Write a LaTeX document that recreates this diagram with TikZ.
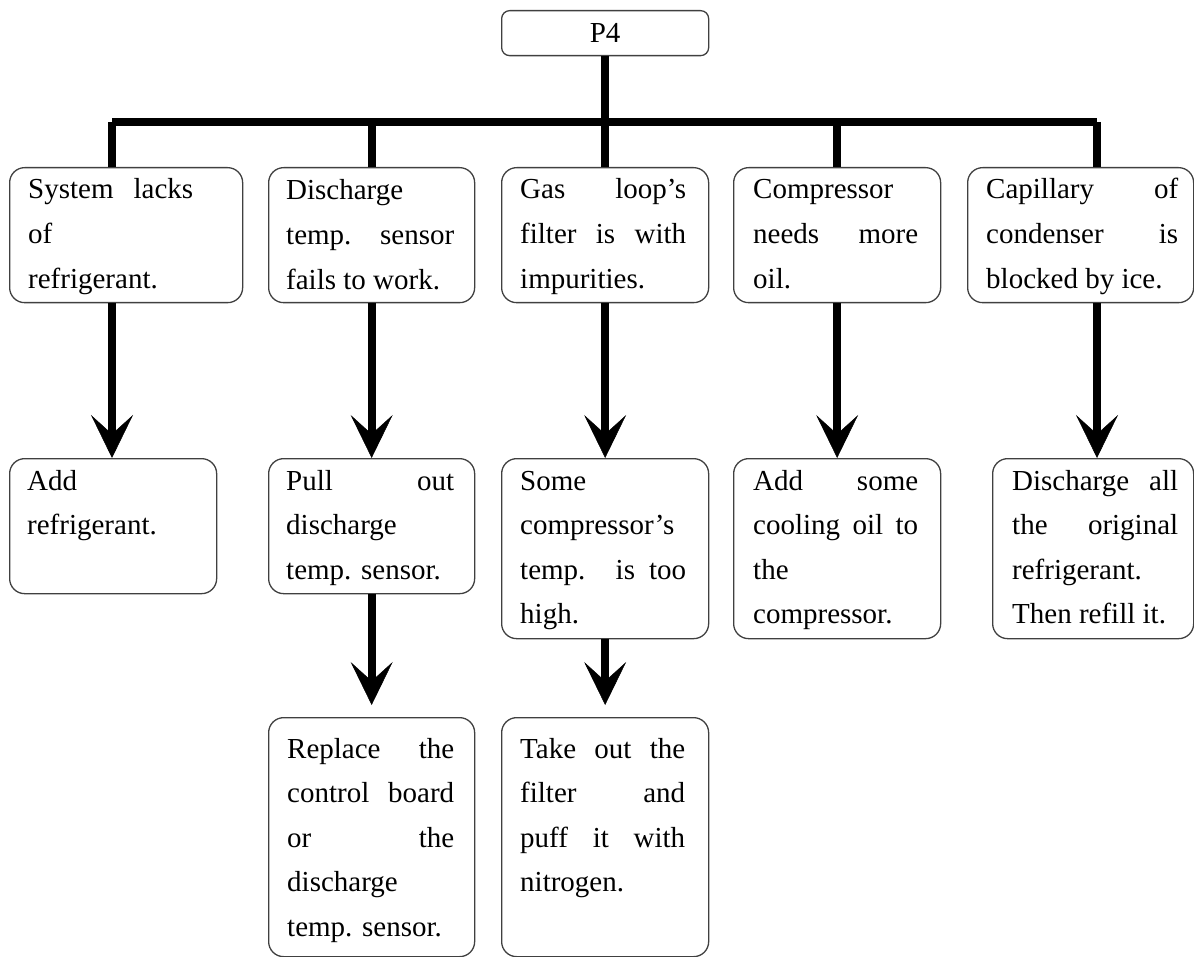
\documentclass[tikz,border=0pt]{standalone}
\usepackage{fontspec}
\setmainfont{Liberation Serif}
\usetikzlibrary{arrows.meta}
\newcommand\jl[1]{\makebox[\linewidth][s]{#1}}
\begin{document}
\begin{tikzpicture}[x=1pt,y=-1pt,
  box/.style={draw=black!75, line width=1.3pt, rounded corners=15pt, anchor=north west, inner sep=0pt, minimum width=207pt},
  txt/.style={anchor=base west, inner sep=0pt, font=\fontsize{29pt}{44.6pt}\selectfont},
  bus/.style={line width=8pt},
  arr/.style={line width=8pt, -{Stealth[length=43pt,width=42pt,inset=19pt,line width=0.5pt]}}]
\clip (0,0) rectangle (1194,957);
% top box
\node[box, rounded corners=8pt, minimum height=45pt, font=\fontsize{29pt}{35pt}\selectfont] (p4) at (501,10) {P4};
% row 1
\node[box, minimum width=233pt, minimum height=135pt] (b1) at (9,167) {};
\node[box, minimum width=206pt, minimum height=135pt] (b2) at (268,167) {};
\node[box, minimum height=135pt] (b3) at (501,167) {};
\node[box, minimum height=135pt] (b4) at (733,167) {};
\node[box, minimum width=226pt, minimum height=135pt] (b5) at (967,167) {};
% row 2
\node[box, minimum height=135pt] (c1) at (9,458) {};
\node[box, minimum width=206pt, minimum height=135pt] (c2) at (268,458) {};
\node[box, minimum height=180pt] (c3) at (501,458) {};
\node[box, minimum height=180pt] (c4) at (733,458) {};
\node[box, minimum width=201pt, minimum height=180pt] (c5) at (992,458) {};
% row 3
\node[box, minimum width=206pt, minimum height=239pt] (d2) at (268,717) {};
\node[box, minimum height=239pt] (d3) at (501,717) {};
% texts
\node[txt] (tb1) at (28,199) {\parbox[t]{165pt}{\jl{System lacks}\\of\\refrigerant.}};
\node[txt] (tb2) at (286,200) {\parbox[t]{168pt}{Discharge\\\jl{temp. sensor}\\fails to work.}};
\node[txt] (tb3) at (520,199) {\parbox[t]{166pt}{\jl{Gas loop’s}\\\jl{filter is with}\\impurities.}};
\node[txt] (tb4) at (753,199) {\parbox[t]{165pt}{Compressor\\\jl{needs more}\\oil.}};
\node[txt] (tb5) at (986,199) {\parbox[t]{192pt}{\jl{Capillary of}\\\jl{condenser is}\\blocked by ice.}};
\node[txt] (tc1) at (27,490) {\parbox[t]{166pt}{Add\\refrigerant.}};
\node[txt] (tc2) at (286,490) {\parbox[t]{168pt}{\jl{Pull out}\\discharge\\temp. sensor.}};
\node[txt] (tc3) at (520,490) {\parbox[t]{166pt}{Some\\compressor’s\\\jl{temp. is too}\\high.}};
\node[txt] (tc4) at (753,490) {\parbox[t]{165pt}{\jl{Add some}\\\jl{cooling oil to}\\the\\compressor.}};
\node[txt] (tc5) at (1012,490) {\parbox[t]{166pt}{\jl{Discharge all}\\\jl{the original}\\refrigerant.\\Then refill it.}};
\node[txt] (td2) at (287,758) {\parbox[t]{167pt}{\jl{Replace the}\\\jl{control board}\\\jl{or the}\\discharge\\temp. sensor.}};
\node[txt] (td3) at (520,758) {\parbox[t]{165pt}{\jl{Take out the}\\\jl{filter and}\\\jl{puff it with}\\nitrogen.}};
% bus
\coordinate (busL) at (112,122);
\coordinate (busR) at (1097,122);
\draw[bus] (p4.south) -- (p4.south |- busL);
\draw[bus] (busL) -- (busR);
\draw[bus] (busL) -- (busL |- b1.north);
\draw[bus] (b2.north |- busL) -- (b2.north);
\draw[bus] (b3.north |- busL) -- (b3.north);
\draw[bus] (b4.north |- busL) -- (b4.north);
\draw[bus] (busR) -- (busR |- b5.north);
% arrows
\draw[arr] (busL |- b1.south) -- (busL |- c1.north);
\draw[arr] (b2.south) -- (c2.north);
\draw[arr] (b3.south) -- (c3.north);
\draw[arr] (b4.south) -- (c4.north);
\draw[arr] (busR |- b5.south) -- (busR |- c5.north);
\draw[arr] (c2.south) -- ([yshift=12pt]d2.north);
\draw[arr] (c3.south) -- ([yshift=12pt]d3.north);
\end{tikzpicture}
\end{document}
